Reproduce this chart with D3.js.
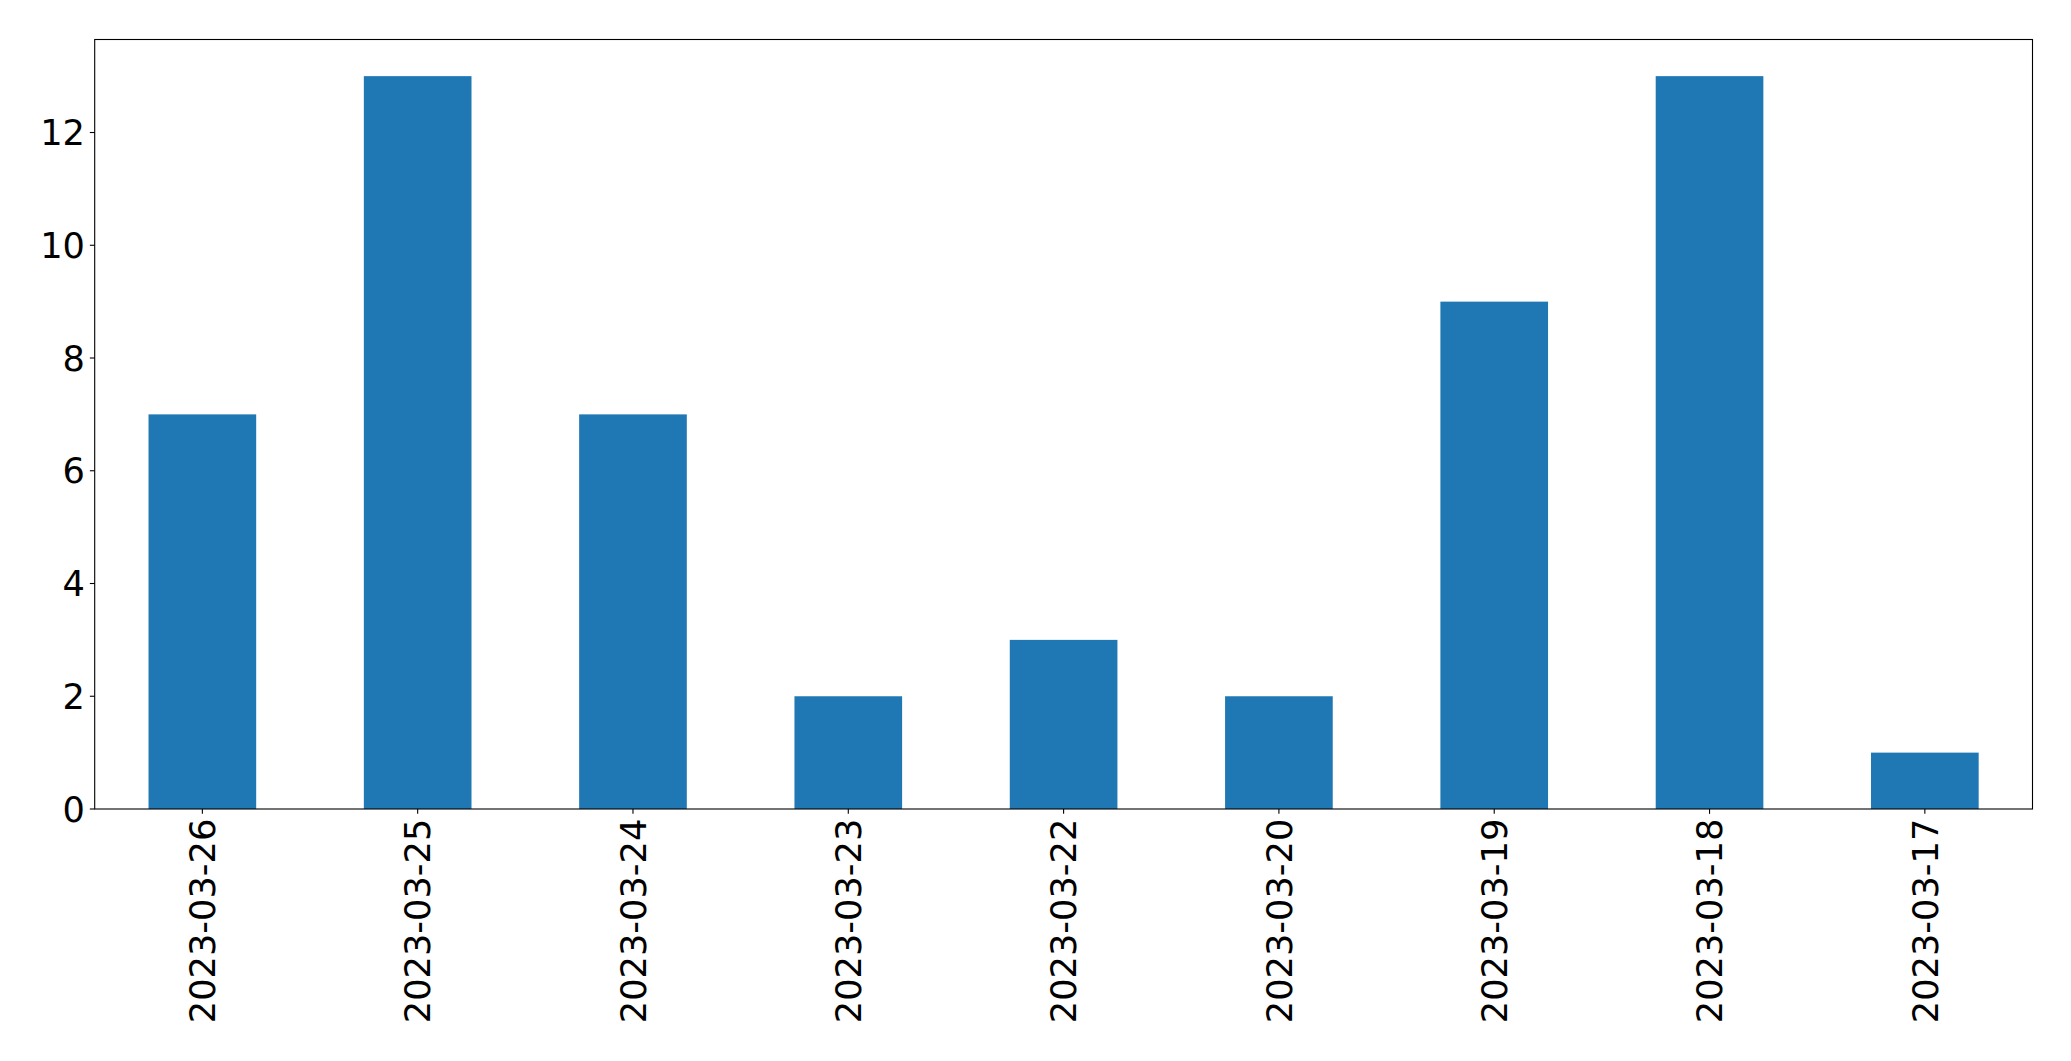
<!DOCTYPE html>
<html><head><meta charset="utf-8">
<script src="https://cdn.jsdelivr.net/npm/d3@7"></script>
<style>body{margin:0;background:#fff}svg{display:block}text{font-family:"DejaVu Sans",sans-serif}</style>
</head><body>
<script>
const categories = ["2023-03-26","2023-03-25","2023-03-24","2023-03-23","2023-03-22","2023-03-20","2023-03-19","2023-03-18","2023-03-17"];
const values = [7,13,7,2,3,2,9,13,1];
const yTicks = [0,2,4,6,8,10,12];

const W = 2071, H = 1061;
const m = {left: 94.7, right: 2032.5, top: 39.5, bottom: 809};
const fs = 35.2, tickLen = 4.86, pad = 4.86;

const svg = d3.select("body").append("svg").attr("width", W).attr("height", H);

const x = d3.scaleLinear().domain([-0.5, categories.length - 0.5]).range([m.left, m.right]);
const y = d3.scaleLinear().domain([0, 13.65]).range([m.bottom, m.top]);
const bw = x(0.25) - x(-0.25);

svg.append("g").selectAll("rect").data(values).join("rect")
  .attr("x", (d,i) => x(i) - bw/2)
  .attr("y", d => y(d))
  .attr("width", bw)
  .attr("height", d => y(0) - y(d))
  .attr("fill", "#1f77b4");

// frame
svg.append("rect").attr("x", m.left).attr("y", m.top)
  .attr("width", m.right - m.left).attr("height", m.bottom - m.top)
  .attr("fill", "none").attr("stroke", "#000").attr("stroke-width", 1.1);

// y axis
const ya = svg.append("g");
yTicks.forEach(t => {
  ya.append("line").attr("x1", m.left - tickLen).attr("x2", m.left)
    .attr("y1", y(t)).attr("y2", y(t)).attr("stroke", "#000").attr("stroke-width", 1.1);
  ya.append("text").attr("x", m.left - tickLen - pad).attr("y", y(t))
    .attr("dy", "0.36em").attr("text-anchor", "end").attr("font-size", fs).attr("fill", "#000")
    .text(t);
});

// x axis
const xa = svg.append("g");
categories.forEach((c, i) => {
  xa.append("line").attr("x1", x(i)).attr("x2", x(i))
    .attr("y1", m.bottom).attr("y2", m.bottom + tickLen).attr("stroke", "#000").attr("stroke-width", 1.1);
  xa.append("text")
    .attr("transform", `translate(${x(i)},${m.bottom + tickLen + pad}) rotate(-90)`)
    .attr("dy", "0.36em").attr("text-anchor", "end").attr("font-size", fs).attr("fill", "#000")
    .text(c);
});
</script>
</body></html>
